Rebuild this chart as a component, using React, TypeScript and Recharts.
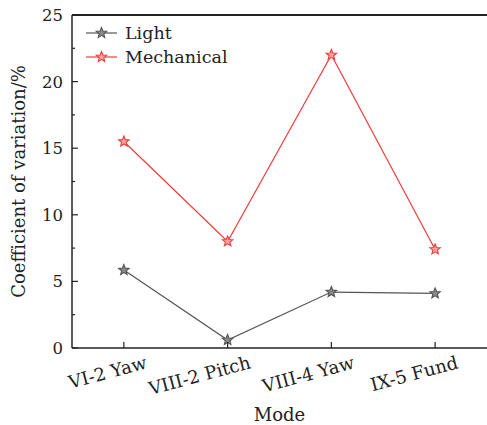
import React from 'react';
import { LineChart, Line, XAxis, YAxis, Legend, ReferenceLine } from 'recharts';

const categories = ['VI-2 Yaw', 'VIII-2 Pitch', 'VIII-4 Yaw', 'IX-5 Fund'];
const lightValues = [5.85, 0.6, 4.2, 4.1];
const mechanicalValues = [15.5, 8.0, 22.0, 7.4];
const yTicks = [0, 2.5, 5, 7.5, 10, 12.5, 15, 17.5, 20, 22.5, 25];

const data = categories.map((c, i) => ({ mode: c, light: lightValues[i], mechanical: mechanicalValues[i] }));

const FONT = 'DejaVu Serif';
const AXIS = '#222';
const LIGHT_STROKE = '#555';
const LIGHT_FILL = '#8a8a8a';
const MECH_STROKE = '#f03c3c';
const MECH_FILL = '#f7a3a3';

function starPoints(cx: number, cy: number, ro: number, ri: number) {
  const pts: string[] = [];
  for (let i = 0; i < 10; i++) {
    const r = i % 2 === 0 ? ro : ri;
    const a = -Math.PI / 2 + (i * Math.PI) / 5;
    pts.push(`${cx + r * Math.cos(a)},${cy + r * Math.sin(a)}`);
  }
  return pts.join(' ');
}

const makeStar = (stroke: string, fill: string) => (props: any) => {
  const { cx, cy, index } = props;
  if (cx == null || cy == null) return <g key={index} />;
  return <polygon key={index} points={starPoints(cx, cy, 5.5, 2.4)} fill={fill} stroke={stroke} strokeWidth={1.1} />;
};

const YTick = (props: any) => {
  const { x, y, payload } = props;
  const v = payload.value;
  const major = v % 5 === 0;
  return (
    <g>
      <line x1={x} y1={y} x2={x + (major ? 6 : 3)} y2={y} stroke={AXIS} strokeWidth={1.2} />
      {major && (
        <text x={x - 9} y={y} dy="0.36em" textAnchor="end" fontFamily={FONT} fontSize={16.5} fill="#222">
          {v}
        </text>
      )}
    </g>
  );
};

const XTick = (props: any) => {
  const { x, y, payload } = props;
  const tx = x + 24;
  const ty = y + 20;
  return (
    <g>
      <line x1={x} y1={y} x2={x} y2={y - 6} stroke={AXIS} strokeWidth={1.2} />
      <text x={tx} y={ty} textAnchor="end" fontFamily={FONT} fontSize={18} fill="#222" transform={`rotate(-15, ${tx}, ${ty})`}>
        {payload.value}
      </text>
    </g>
  );
};

const legendItems = [
  { label: 'Light', stroke: LIGHT_STROKE, fill: LIGHT_FILL },
  { label: 'Mechanical', stroke: MECH_STROKE, fill: MECH_FILL },
];

const LegendContent = () => (
  <svg width={200} height={60} style={{ display: 'block' }}>
    {legendItems.map((it, i) => {
      const y = 13 + i * 24;
      return (
        <g key={it.label}>
          <line x1={6} y1={y} x2={37} y2={y} stroke={it.stroke} strokeWidth={1.2} />
          <polygon points={starPoints(21.5, y, 5.5, 2.4)} fill={it.fill} stroke={it.stroke} strokeWidth={1.1} />
          <text x={45} y={y} dy="0.36em" fontFamily={FONT} fontSize={17.5} fill="#222">
            {it.label}
          </text>
        </g>
      );
    })}
  </svg>
);

export default function App() {
  return (
    <div style={{ position: 'absolute', left: 0, top: 0 }}>
      <LineChart width={487} height={425} data={data} margin={{ top: 15, right: 0, bottom: 0, left: 0 }}>
        <XAxis
          dataKey="mode"
          scale="band"
          height={77}
          interval={0}
          tickSize={0}
          tickMargin={0}
          tickLine={false}
          axisLine={{ stroke: AXIS, strokeWidth: 1.5 }}
          tick={<XTick />}
          label={{ value: 'Mode', position: 'insideBottom', offset: 4, fontFamily: FONT, fontSize: 18, fill: '#222' }}
        />
        <YAxis
          domain={[0, 25]}
          ticks={yTicks}
          interval={0}
          width={72}
          tickSize={0}
          tickMargin={0}
          tickLine={false}
          axisLine={{ stroke: AXIS, strokeWidth: 1.5 }}
          tick={<YTick />}
          label={{
            content: (p: any) => {
              const vb = p.viewBox || {};
              const cy = (vb.y || 0) + (vb.height || 0) / 2;
              return (
                <text x={25} y={cy} textAnchor="middle" fontFamily={FONT} fontSize={18} fill="#222" transform={`rotate(-90, 25, ${cy})`}>
                  Coefficient of variation/%
                </text>
              );
            },
          }}
        />
        <ReferenceLine y={25} stroke={AXIS} strokeWidth={1.8} />
        <Legend
          layout="horizontal"
          verticalAlign="middle"
          align="center"
          content={<LegendContent />}
          wrapperStyle={{ position: 'absolute', left: 80, top: 20, width: 200, height: 60 }}
        />
        <Line
          dataKey="light"
          name="Light"
          stroke={LIGHT_STROKE}
          strokeWidth={1.2}
          dot={makeStar(LIGHT_STROKE, LIGHT_FILL)}
          activeDot={false}
          isAnimationActive={false}
        />
        <Line
          dataKey="mechanical"
          name="Mechanical"
          stroke={MECH_STROKE}
          strokeWidth={1.2}
          dot={makeStar(MECH_STROKE, MECH_FILL)}
          activeDot={false}
          isAnimationActive={false}
        />
      </LineChart>
    </div>
  );
}
